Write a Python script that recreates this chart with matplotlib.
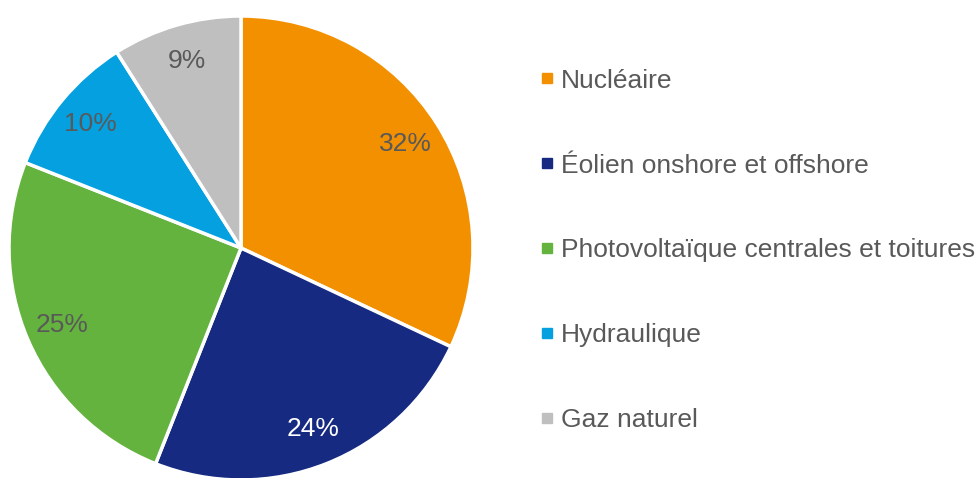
import matplotlib.pyplot as plt
from matplotlib.lines import Line2D

plt.rcParams['font.family'] = ['Liberation Sans', 'DejaVu Sans']

# données
categories = ['Nucléaire', 'Éolien onshore et offshore', 'Photovoltaïque centrales et toitures',
              'Hydraulique', 'Gaz naturel']
parts = [32, 24, 25, 10, 9]
couleurs = ['#F39000', '#152A80', '#64B33E', '#04A0DF', '#BFBFBF']
couleurs_texte = ['#595959', 'white', '#595959', '#595959', '#595959']

W, H = 979, 478
fig = plt.figure(figsize=(W / 100, H / 100), dpi=100)

# camembert : centre (241, 248) px, rayon 232 px
cx, cy, r = 241, 248, 232
ax = fig.add_axes([(cx - r) / W, (H - cy - r) / H, 2 * r / W, 2 * r / H])
wedges, textes, autotextes = ax.pie(
    parts, colors=couleurs, startangle=90, counterclock=False,
    autopct='%1.0f%%', pctdistance=0.84,
    wedgeprops=dict(edgecolor='white', linewidth=2.5),
    textprops=dict(fontsize=19))
for t, c in zip(autotextes, couleurs_texte):
    t.set_color(c)
ax.set_xlim(-1, 1)
ax.set_ylim(-1, 1)
ax.set_axis_off()

# légende
poignees = [Line2D([], [], marker='s', linestyle='none', markersize=7,
                   markerfacecolor=c, markeredgecolor=c) for c in couleurs]
fig.legend(poignees, categories, loc='center left', bbox_to_anchor=(527 / W, (H - 250.5) / H),
           frameon=False, fontsize=19, labelcolor='#595959', handlelength=0.55,
           handletextpad=0.25, labelspacing=2.31, borderpad=0)

fig.savefig('out.png', dpi=100)
